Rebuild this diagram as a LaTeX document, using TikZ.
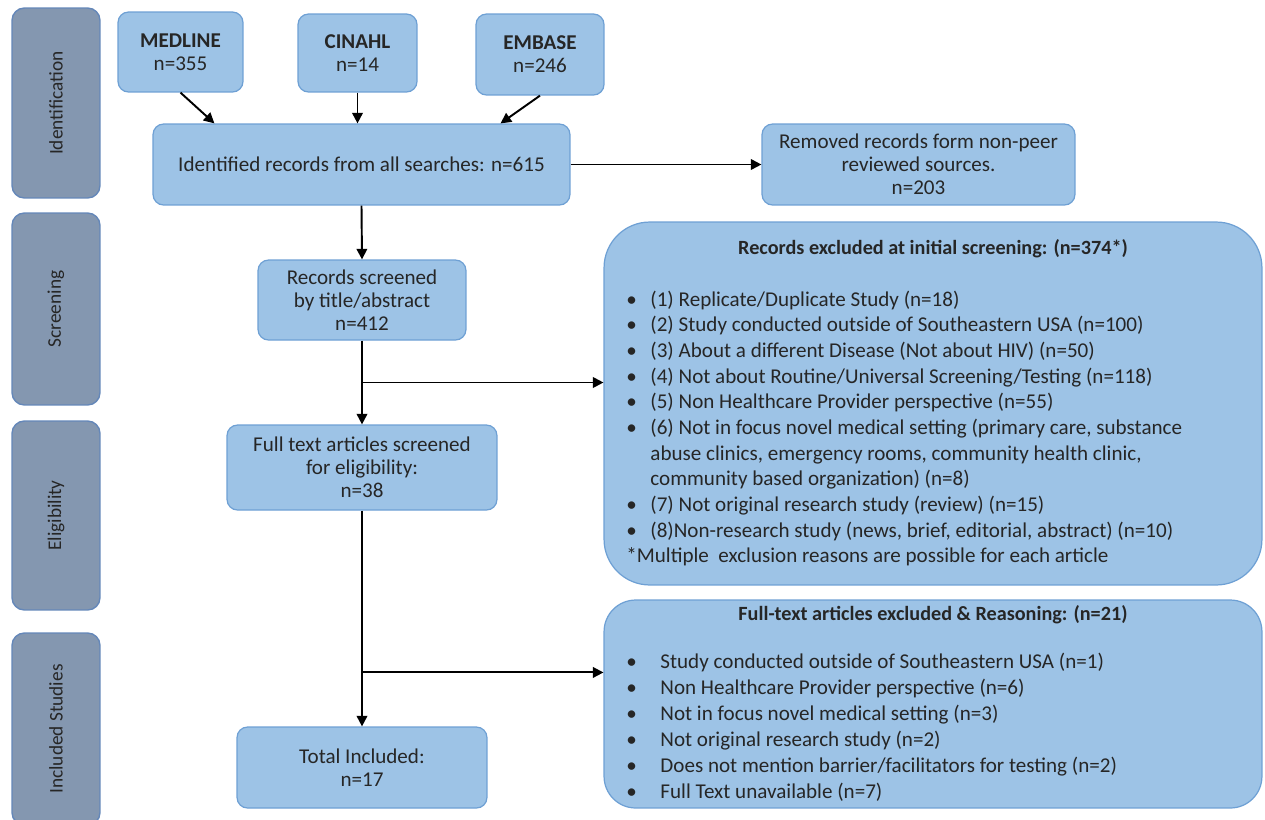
\documentclass[tikz,border=0pt]{standalone}
\usepackage{fontspec}
\setmainfont{Carlito}
\usetikzlibrary{arrows.meta}

\definecolor{boxfill}{RGB}{157,195,230}
\definecolor{boxline}{RGB}{110,160,212}
\definecolor{barfill}{RGB}{132,151,176}
\definecolor{barline}{RGB}{100,135,185}
\definecolor{txt}{RGB}{38,38,38}

\newcommand{\bul}{\textbullet}

\begin{document}
\begin{tikzpicture}[
    x=0.02cm, y=-0.02cm,
    every node/.style={font=\fontsize{12}{13}\selectfont, text=txt},
    stage/.style={draw=boxline, fill=boxfill, line width=0.7pt,
        rounded corners=6pt, align=center, inner sep=2pt},
    sidebar/.style={draw=barline, fill=barfill, line width=0.8pt,
        rounded corners=7pt, minimum width=1.76cm},
    bigbox/.style={draw=boxline, fill=boxfill, line width=0.7pt,
        minimum width=13.16cm},
    arr/.style={-{Triangle[length=6pt,width=6pt]}, line width=1.1pt, black},
    link/.style={line width=1.1pt, black},
    ]

    \useasboundingbox (0,0) rectangle (1265,819);

    % phase bars on the left
    \foreach \nm/\yy/\hh/\lbl in {id/103/3.8cm/Identification,
                                scr/309/3.84cm/Screening,
                                eli/515.5/3.78cm/Eligibility,
                                inc/729/3.84cm/Included Studies}{
    \node[sidebar, minimum height=\hh] (bar\nm) at (56,\yy) {};
    \node[rotate=90, font=\fontsize{11}{12}\selectfont] (lbl\nm) at (bar\nm) {\lbl};
    }

    % databases
    \node[stage, minimum width=2.5cm, minimum height=1.6cm] (medline)
        at (180.5,52) {\textbf{MEDLINE}\\n=355};
    \node[stage, minimum width=2.38cm, minimum height=1.56cm] (cinahl)
        at (357.5,53) {\textbf{CINAHL}\\n=14};
    \node[stage, minimum width=2.56cm, minimum height=1.62cm] (embase)
        at (540,54.5) {\textbf{EMBASE}\\n=246};

    \node[stage, minimum width=8.34cm, minimum height=1.62cm] (ident)
        at (361.5,164.5) {Identified records from all searches: n=615};
    \node[stage, minimum width=6.26cm, minimum height=1.62cm] (removed)
        at (918.5,164.5) {Removed records form non-peer\\reviewed sources.\\n=203};

    \node[stage, minimum width=4.16cm, minimum height=1.6cm] (screened)
        at (362,300) {Records screened\\by title/abstract\\n=412};
    \node[stage, minimum width=5.4cm, minimum height=1.7cm] (fulltext)
        at (362,467.5) {Full text articles screened\\for eligibility:\\n=38};
    \node[stage, minimum width=5.0cm, minimum height=1.62cm] (total)
        at (362,767.5) {Total Included:\\n=17};

    % exclusion boxes
    \node[bigbox, minimum height=7.26cm, rounded corners=26pt] (excl1)
        at (933,403.5) {};
    \node[font=\fontsize{11.5}{13}\selectfont\bfseries] (title1)
        at (933,249) {Records excluded at initial screening: (n=374*)};
    \node[anchor=north west, inner sep=0pt, align=left,
        font=\fontsize{12}{14.6}\selectfont] (list1) at (626,288) {%
    \begin{tabular}{@{}p{13.7pt}@{}l@{}}
    \bul & (1) Replicate/Duplicate Study (n=18)\\
    \bul & (2) Study conducted outside of Southeastern USA (n=100)\\
    \bul & (3) About a different Disease (Not about HIV) (n=50)\\
    \bul & (4) Not about Routine/Universal Screening/Testing (n=118)\\
    \bul & (5) Non Healthcare Provider perspective (n=55)\\
    \bul & (6) Not in focus novel medical setting (primary care, substance\\
         & abuse clinics, emergency rooms, community health clinic,\\
         & community based organization) (n=8)\\
    \bul & (7) Not original research study (review) (n=15)\\
    \bul & (8)Non-research study (news, brief, editorial, abstract) (n=10)\\
    \multicolumn{2}{@{}l@{}}{*Multiple\ \ exclusion reasons are possible for each article}
    \end{tabular}};

    \node[bigbox, minimum height=4.16cm, rounded corners=18pt] (excl2)
        at (933,704) {};
    \node[font=\fontsize{11.5}{13}\selectfont\bfseries] (title2)
        at (933,615) {Full-text articles excluded \& Reasoning: (n=21)};
    \node[anchor=north west, inner sep=0pt, align=left,
        font=\fontsize{12}{14.8}\selectfont] (list2) at (626,650) {%
    \begin{tabular}{@{}p{19.4pt}@{}l@{}}
    \bul & Study conducted outside of Southeastern USA (n=1)\\
    \bul & Non Healthcare Provider perspective (n=6)\\
    \bul & Not in focus novel medical setting (n=3)\\
    \bul & Not original research study (n=2)\\
    \bul & Does not mention\ barrier/facilitators for testing (n=2)\\
    \bul & Full Text unavailable (n=7)
    \end{tabular}};

    % connectors
    \draw[arr] (medline.south) -- ([xshift=1.24cm]ident.north west);
    \draw[arr] (cinahl.south) -- (cinahl.south |- ident.north);
    \draw[arr] (embase.south) -- ([xshift=-1.4cm]ident.north east);
    \draw[arr] (ident.east) -- (removed.west);
    \draw[arr] (ident.south) -- (screened.north);

    \path (screened.south) -- (fulltext.north) coordinate[pos=0.5] (split1);
    \draw[arr] (screened.south) -- (fulltext.north);
    \draw[arr] (split1) -- (split1 -| excl1.west);

    \path (fulltext.south) -- (total.north) coordinate[pos=0.75] (split2);
    \draw[arr] (fulltext.south) -- (total.north);
    \draw[arr] (split2) -- (split2 -| excl2.west);

\end{tikzpicture}
\end{document}
